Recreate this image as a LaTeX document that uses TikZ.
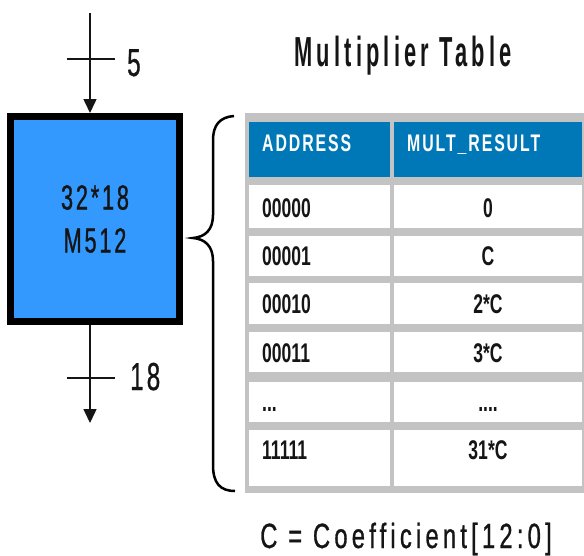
\documentclass[tikz,border=0pt]{standalone}
\usepackage{fontspec}
\usetikzlibrary{arrows.meta}
\newfontfamily\nf[FakeStretch=0.62,LetterSpace=8,FakeBold=0.8]{Liberation Sans}
\newfontfamily\coef[FakeStretch=0.68,LetterSpace=12,FakeBold=0.8]{Liberation Sans}
\newfontfamily\tf[FakeStretch=0.52,LetterSpace=10]{Liberation Sans}
\newfontfamily\hf[FakeStretch=0.66,LetterSpace=8]{Liberation Sans}
\newfontfamily\cf[FakeStretch=0.65]{Liberation Sans}
\definecolor{boxblue}{HTML}{3399FF}
\definecolor{headblue}{HTML}{0077B6}
\definecolor{framegray}{HTML}{C3C3C3}
\definecolor{ink}{HTML}{151515}
\tikzset{
  membox/.style={draw=black, fill=boxblue, line width=7pt, minimum width=169pt, minimum height=205pt, inner sep=0pt},
  wire/.style={line width=1.5pt, draw=ink},
  wirearrow/.style={wire, -{Triangle[width=13pt,length=14pt]}},
  htxt/.style={anchor=base west, inner sep=0pt, text=white, font=\hf\bfseries\fontsize{24}{28}\selectfont},
  ltxt/.style={anchor=base west, inner sep=0pt, text=ink, font=\cf\bfseries\fontsize{27}{30}\selectfont},
  rtxt/.style={anchor=base, inner sep=0pt, text=ink, font=\cf\bfseries\fontsize{27}{30}\selectfont},
  lbl/.style={anchor=base west, inner sep=0pt, text=ink, font=\nf\fontsize{39}{44}\selectfont},
}
\begin{document}
\begin{tikzpicture}[x=1pt,y=-1pt]
\useasboundingbox (0,0) rectangle (584,555);
% memory block
\node[membox, align=center, text=ink, font=\nf\fontsize{35}{43}\selectfont] (mem) at (95,219) {32*18\\M512};
% wires
\coordinate (in) at (90,13);
\coordinate (out) at (90,423);
\draw[wirearrow] (in) -- (in |- mem.north);
\draw[wirearrow] (out |- mem.south) -- (out);
\coordinate (t1a) at (67,59); \coordinate (t1b) at (115,59);
\coordinate (t2a) at (67,378); \coordinate (t2b) at (115,378);
\draw[wire] (t1a) -- (t1b);
\draw[wire] (t2a) -- (t2b);
\node[lbl] (lin) at (127,76) {5};
\node[lbl] (lout) at (130,390) {18};
% title
\node[anchor=base, inner sep=0pt, text=ink, font=\tf\bfseries\fontsize{42}{46}\selectfont] (title) at (403,66) {Multiplier Table};
% brace
\draw[line width=2.5pt, draw=black] (234,116) .. controls (220,117) and (213,125) .. (213,140) -- (213,215) .. controls (213,230) and (205,237) .. (193,238) .. controls (205,239) and (213,246) .. (213,261) -- (213,465) .. controls (213,483) and (220,491) .. (235,491);
% table frame
\fill[framegray] (245,113) rectangle (590,493);
% header
\fill[headblue] (249,122) rectangle (390,177);
\fill[headblue] (394,122) rectangle (582,177);
\node[htxt] (h1) at (262,151) {ADDRESS};
\node[htxt] (h2) at (407,151) {MULT\_RESULT};
% rows
\foreach \t/\b in {185/228,236/276,283/324,332/372,382/422,430/486}{
  \fill[white] (249,\t) rectangle (390,\b);
  \fill[white] (394,\t) rectangle (582,\b);
}
\node[ltxt] (a1) at (262,217) {00000};
\node[rtxt] (r1) at (488,217) {0};
\node[ltxt] (a2) at (262,265) {00001};
\node[rtxt] (r2) at (488,265) {C};
\node[ltxt] (a3) at (262,313) {00010};
\node[rtxt] (r3) at (488,313) {2*C};
\node[ltxt] (a4) at (262,362) {00011};
\node[rtxt] (r4) at (488,362) {3*C};
\node[ltxt] (a5) at (262,411) {...};
\node[rtxt] (r5) at (488,411) {....};
\node[ltxt] (a6) at (262,459) {11111};
\node[rtxt] (r6) at (488,459) {31*C};
% coefficient
\node[anchor=base, inner sep=0pt, text=ink, font=\coef\fontsize{35}{40}\selectfont] (cf) at (406,548) {C = Coefficient[12:0]};
\end{tikzpicture}
\end{document}
